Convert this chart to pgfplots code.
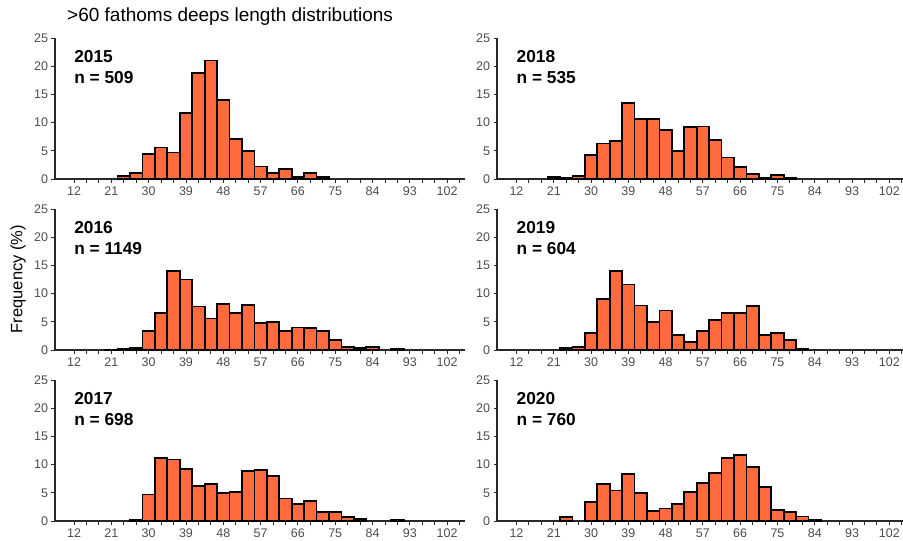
\documentclass[border=0pt]{standalone}
\usepackage{pgfplots}
\pgfplotsset{compat=1.18}
\usepackage{fontspec}
\setmainfont{Liberation Sans}
\definecolor{barfill}{RGB}{255,107,61}
\definecolor{tickgray}{RGB}{77,77,77}
\definecolor{axisdark}{RGB}{40,40,40}

\pgfplotsset{
  panel/.style={
    scale only axis, width=410bp, height=141bp,
    xmin=7.4, xmax=106.3, ymin=0, ymax=25,
    axis x line*=bottom, axis y line*=left,
    axis line style={line width=1.1bp, axisdark, -},
    xtick={12,21,...,102},
    minor xtick={15,18,24,27,33,36,42,45,51,54,60,63,69,72,78,81,87,90,96,99,105},
    ytick={0,5,...,25},
    tick align=outside,
    major tick length=3.5bp, minor tick length=3.5bp,
    every tick/.style={line width=0.9bp, axisdark},
    minor tick style={line width=0.9bp, axisdark},
    /pgf/number format/assume math mode=true,
    ticklabel style={font=\fontsize{12.5bp}{14bp}\selectfont, text=tickgray},
    xticklabel style={yshift=-1bp},
    clip=false,
  },
  hbar/.style={ybar, bar width=3, bar shift=0pt, fill=barfill, draw=black, line width=1.8bp},
}
\newcommand{\plab}[2]{%
  \node[anchor=base west, inner sep=0pt, font=\fontsize{17.3bp}{19bp}\selectfont\bfseries] at (axis cs:12,20.6) {#1};
  \node[anchor=base west, inner sep=0pt, font=\fontsize{17.3bp}{19bp}\selectfont\bfseries] at (axis cs:12,16.9) {n = #2};
}

\begin{document}
\begin{tikzpicture}
\useasboundingbox (0,0) rectangle (903bp,-541bp);

\node[anchor=base west, inner sep=0pt, font=\fontsize{19bp}{21bp}\selectfont] at (67bp,-21bp) {>60 fathoms deeps length distributions};
\node[rotate=90, inner sep=0pt, font=\fontsize{16.5bp}{18bp}\selectfont] at (18bp,-279bp) {Frequency (\%)};

% Row 1 left: 2015
\begin{axis}[panel, at={(55bp,-179bp)}, anchor=south west]
\addplot[hbar] coordinates {(24,0.6)(27,1.0)(30,4.5)(33,5.6)(36,4.7)(39,11.7)(42,18.8)(45,21.0)(48,14.0)(51,7.1)(54,5.0)(57,2.2)(60,1.0)(63,1.8)(66,0.3)(69,1.1)(72,0.4)};
\plab{2015}{509}
\end{axis}

% Row 2 left: 2016
\begin{axis}[panel, at={(55bp,-350bp)}, anchor=south west]
\addplot[hbar] coordinates {(21,0.1)(24,0.2)(27,0.35)(30,3.3)(33,6.5)(36,14.0)(39,12.5)(42,7.7)(45,5.6)(48,8.1)(51,6.6)(54,8.0)(57,4.75)(60,5.0)(63,3.3)(66,4.0)(69,3.9)(72,3.3)(75,1.8)(78,0.6)(81,0.3)(84,0.5)(90,0.15)};
\plab{2016}{1149}
\end{axis}

% Row 3 left: 2017
\begin{axis}[panel, at={(55bp,-521bp)}, anchor=south west]
\addplot[hbar] coordinates {(27,0.2)(30,4.7)(33,11.2)(36,10.9)(39,9.2)(42,6.2)(45,6.6)(48,5.0)(51,5.1)(54,8.9)(57,9.0)(60,8.0)(63,4.0)(66,3.0)(69,3.6)(72,1.65)(75,1.65)(78,0.65)(81,0.35)(90,0.2)};
\plab{2017}{698}
\end{axis}

% Row 1 right: 2018
\begin{axis}[panel, width=406bp, xmin=7.3, xmax=105.3, at={(497bp,-179bp)}, anchor=south west]
\addplot[hbar] coordinates {(21,0.4)(24,0.2)(27,0.6)(30,4.3)(33,6.3)(36,6.7)(39,13.5)(42,10.6)(45,10.6)(48,8.7)(51,5.0)(54,9.2)(57,9.3)(60,6.9)(63,3.8)(66,2.1)(69,0.9)(72,0.2)(75,0.65)(78,0.2)};
\plab{2018}{535}
\end{axis}

% Row 2 right: 2019
\begin{axis}[panel, width=406bp, xmin=7.3, xmax=105.3, at={(497bp,-350bp)}, anchor=south west]
\addplot[hbar] coordinates {(24,0.35)(27,0.55)(30,3.0)(33,9.1)(36,14.0)(39,11.6)(42,7.9)(45,4.9)(48,7.0)(51,2.7)(54,1.4)(57,3.4)(60,5.3)(63,6.6)(66,6.6)(69,7.8)(72,2.7)(75,3.0)(78,1.8)(81,0.2)};
\plab{2019}{604}
\end{axis}

% Row 3 right: 2020
\begin{axis}[panel, width=406bp, xmin=7.3, xmax=105.3, at={(497bp,-521bp)}, anchor=south west]
\addplot[hbar] coordinates {(24,0.7)(30,3.3)(33,6.6)(36,5.4)(39,8.4)(42,5.0)(45,1.8)(48,2.2)(51,3.0)(54,5.1)(57,6.7)(60,8.5)(63,11.2)(66,11.7)(69,9.6)(72,6.0)(75,2.0)(78,1.6)(81,0.8)(84,0.2)};
\plab{2020}{760}
\end{axis}
\end{tikzpicture}
\end{document}
